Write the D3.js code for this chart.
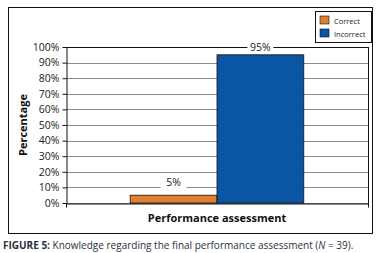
<!DOCTYPE html>
<html>
<head>
<meta charset="utf-8">
<script src="https://cdn.jsdelivr.net/npm/d3@7"></script>
<style>
  body { margin: 0; background: #fff; }
  svg { display: block; font-family: "Open Sans", "Liberation Sans", sans-serif; }
</style>
</head>
<body>
<svg width="381" height="253"></svg>
<script>
const categories = ["Performance assessment"];
const seriesNames = ["Correct", "Incorrect"];
const seriesValues = [5, 95];
const seriesColors = ["#e07f2e", "#0b56a4"];
const yTicks = [0, 10, 20, 30, 40, 50, 60, 70, 80, 90, 100];

const svg = d3.select("svg");
const plot = { left: 66, right: 368, top: 47, bottom: 203 };

// outer frame
svg.append("rect")
    .attr("x", 8.5).attr("y", 7.5)
    .attr("width", 364).attr("height", 226)
    .attr("fill", "none").attr("stroke", "#111").attr("stroke-width", 1);

const x0 = d3.scaleBand()
    .domain(categories)
    .range([plot.left, plot.right])
    .paddingInner(0.27).paddingOuter(0.27);

const x1 = d3.scaleBand()
    .domain(seriesNames)
    .range([0, x0.bandwidth()]);

const y = d3.scaleLinear()
    .domain([0, 100])
    .range([plot.bottom, plot.top]);

// gridlines
svg.append("g")
    .selectAll("line")
    .data(yTicks)
    .enter().append("line")
    .attr("x1", plot.left).attr("x2", plot.right)
    .attr("y1", d => Math.round(y(d)) + 0.5)
    .attr("y2", d => Math.round(y(d)) + 0.5)
    .attr("stroke", d => d === 100 ? "#111" : "#8a8a8a")
    .attr("stroke-width", 1);

// right border
svg.append("line")
    .attr("x1", plot.right + 0.5).attr("x2", plot.right + 0.5)
    .attr("y1", plot.top).attr("y2", plot.bottom + 4)
    .attr("stroke", "#111");

// bars
svg.append("g")
    .selectAll("rect")
    .data(seriesValues)
    .enter().append("rect")
    .attr("x", (d, i) => x0(categories[0]) + x1(seriesNames[i]))
    .attr("y", d => y(d))
    .attr("width", x1.bandwidth())
    .attr("height", d => plot.bottom - y(d))
    .attr("fill", (d, i) => seriesColors[i])
    .attr("stroke", "#111")
    .attr("stroke-width", 0.8);

// y axis
const yAxis = svg.append("g")
    .attr("transform", `translate(${plot.left + 0.5},0)`)
    .call(d3.axisLeft(y).tickValues(yTicks).tickFormat(d => d + "%").tickSize(4).tickSizeOuter(0));
yAxis.select(".domain").attr("stroke", "#111");
yAxis.selectAll(".tick line").attr("stroke", "#111");
yAxis.selectAll(".tick text")
    .attr("x", -7)
    .style("font-size", "10.5px")
    .style("font-family", "'Open Sans', sans-serif")
    .attr("fill", "#222");

// x axis
const xAxis = svg.append("g")
    .attr("transform", `translate(0,${plot.bottom + 0.5})`)
    .call(d3.axisBottom(x0).tickSize(0).tickSizeOuter(4).tickFormat(""));
xAxis.select(".domain").attr("stroke", "#111");

// value labels (white box hides the gridline behind them)
const labels = svg.append("g");
seriesValues.forEach((v, i) => {
    const cx = x0(categories[0]) + x1(seriesNames[i]) + x1.bandwidth() / 2;
    const ty = Math.max(y(v) - 9, plot.top + 4);
    labels.append("rect")
        .attr("x", cx - 13).attr("y", ty - 10)
        .attr("width", 26).attr("height", 13)
        .attr("fill", "#fff");
    labels.append("text")
        .attr("x", cx).attr("y", ty)
        .attr("text-anchor", "middle")
        .style("font-size", "10.5px")
        .attr("fill", "#222")
        .text(v + "%");
});

// axis titles
svg.append("text")
    .attr("x", (plot.left + plot.right) / 2)
    .attr("y", 222)
    .attr("text-anchor", "middle")
    .style("font-size", "11px")
    .style("font-weight", "bold")
    .attr("fill", "#111")
    .text(categories[0]);

svg.append("text")
    .attr("transform", "rotate(-90)")
    .attr("x", -(plot.top + plot.bottom) / 2)
    .attr("y", 27)
    .attr("text-anchor", "middle")
    .style("font-size", "11px")
    .style("font-weight", "bold")
    .attr("fill", "#111")
    .text("Percentage");

// legend
const legend = svg.append("g");
legend.append("rect")
    .attr("x", 315.5).attr("y", 11.5)
    .attr("width", 56).attr("height", 31)
    .attr("fill", "#fff").attr("stroke", "#111");
seriesNames.forEach((name, i) => {
    legend.append("rect")
        .attr("x", 320).attr("y", 16 + i * 13)
        .attr("width", 9).attr("height", 8)
        .attr("fill", seriesColors[i])
        .attr("stroke", "#111").attr("stroke-width", 0.6);
    legend.append("text")
        .attr("x", 334).attr("y", 23.5 + i * 13)
        .style("font-size", "7.5px")
        .attr("fill", "#222")
        .text(name);
});

// caption
const caption = svg.append("text")
    .attr("x", 3).attr("y", 249)
    .style("font-size", "10px")
    .attr("fill", "#2a2f3d");
caption.append("tspan").style("font-weight", "bold").text("FIGURE 5: ");
caption.append("tspan").text("Knowledge regarding the final performance assessment (");
caption.append("tspan").style("font-style", "italic").text("N");
caption.append("tspan").text(" = 39).");
</script>
</body>
</html>
